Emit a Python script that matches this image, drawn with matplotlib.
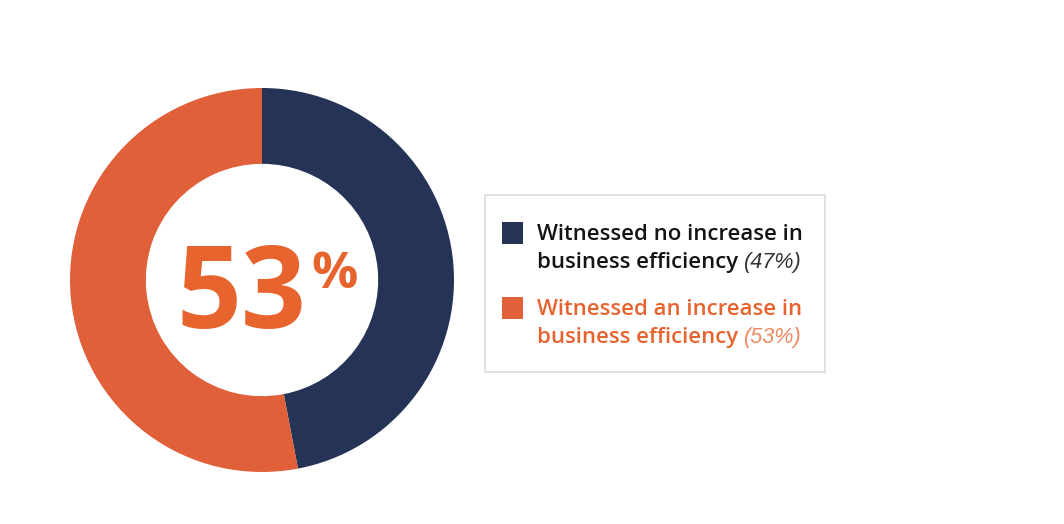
import matplotlib
matplotlib.use("Agg")
import matplotlib.pyplot as plt
from matplotlib.patches import Rectangle

# ---- data ----
line1 = ["Witnessed no increase in", "Witnessed an increase in"]
line2 = ["business efficiency", "business efficiency"]
values = [47, 53]
highlight_value = 53

# ---- style ----
colors = ["#243356", "#E0603A"]
text_colors = ["#141414", "#E8642F"]
note_colors = ["#333333", "#EE8A62"]

W, H = 1064, 524
fig = plt.figure(figsize=(W / 100, H / 100), dpi=100)
fig.patch.set_facecolor("white")

def fx(x):
    return x / W

def fy(y):
    return 1 - y / H

cx, cy, R = 262, 280, 192
ax = fig.add_axes([fx(cx - R), fy(cy + R), 2 * R / W, 2 * R / H])
ax.pie(values, colors=colors, startangle=90, counterclock=False,
       wedgeprops=dict(width=0.395, linewidth=0, antialiased=True))
ax.set_xlim(-1, 1)
ax.set_ylim(-1, 1)
ax.set_aspect("equal")
ax.axis("off")

FONT = "Open Sans"
# center figure
fig.text(fx(177), fy(328), f"{highlight_value}", fontsize=82, fontweight="bold",
         family=FONT, color=text_colors[1], ha="left", va="baseline")
fig.text(fx(311), fy(288), "%", fontsize=37, fontweight="bold",
         family=FONT, color=text_colors[1], ha="left", va="baseline")

# legend box
box = Rectangle((fx(484.5), fy(372)), (825 - 484.5) / W, (372 - 195) / H,
                transform=fig.transFigure, facecolor="white",
                edgecolor="#dcdcdc", linewidth=1.2)
fig.patches.append(box)

fig.canvas.draw()
renderer = fig.canvas.get_renderer()

sq_tops = [222, 297]
base1 = [240, 315]
base2 = [268, 343]
fs = 15.9
for i in range(len(values)):
    sq = Rectangle((fx(502), fy(sq_tops[i] + 22)), 21 / W, 22 / H,
                   transform=fig.transFigure, facecolor=colors[i], edgecolor="none")
    fig.patches.append(sq)
    fig.text(fx(537), fy(base1[i]), line1[i], fontsize=fs, fontweight="semibold",
             family=FONT, color=text_colors[i], ha="left", va="baseline")
    t = fig.text(fx(537), fy(base2[i]), line2[i], fontsize=fs, fontweight="semibold",
                 family=FONT, color=text_colors[i], ha="left", va="baseline")
    bb = t.get_window_extent(renderer)
    fig.text((bb.x1 + 6) / W, fy(base2[i]), f"({values[i]}%)", fontsize=fs - 0.3,
             style="italic", fontweight="normal",
             family="Liberation Sans", color=note_colors[i], ha="left", va="baseline")

fig.savefig("out.png", dpi=100, facecolor="white")
